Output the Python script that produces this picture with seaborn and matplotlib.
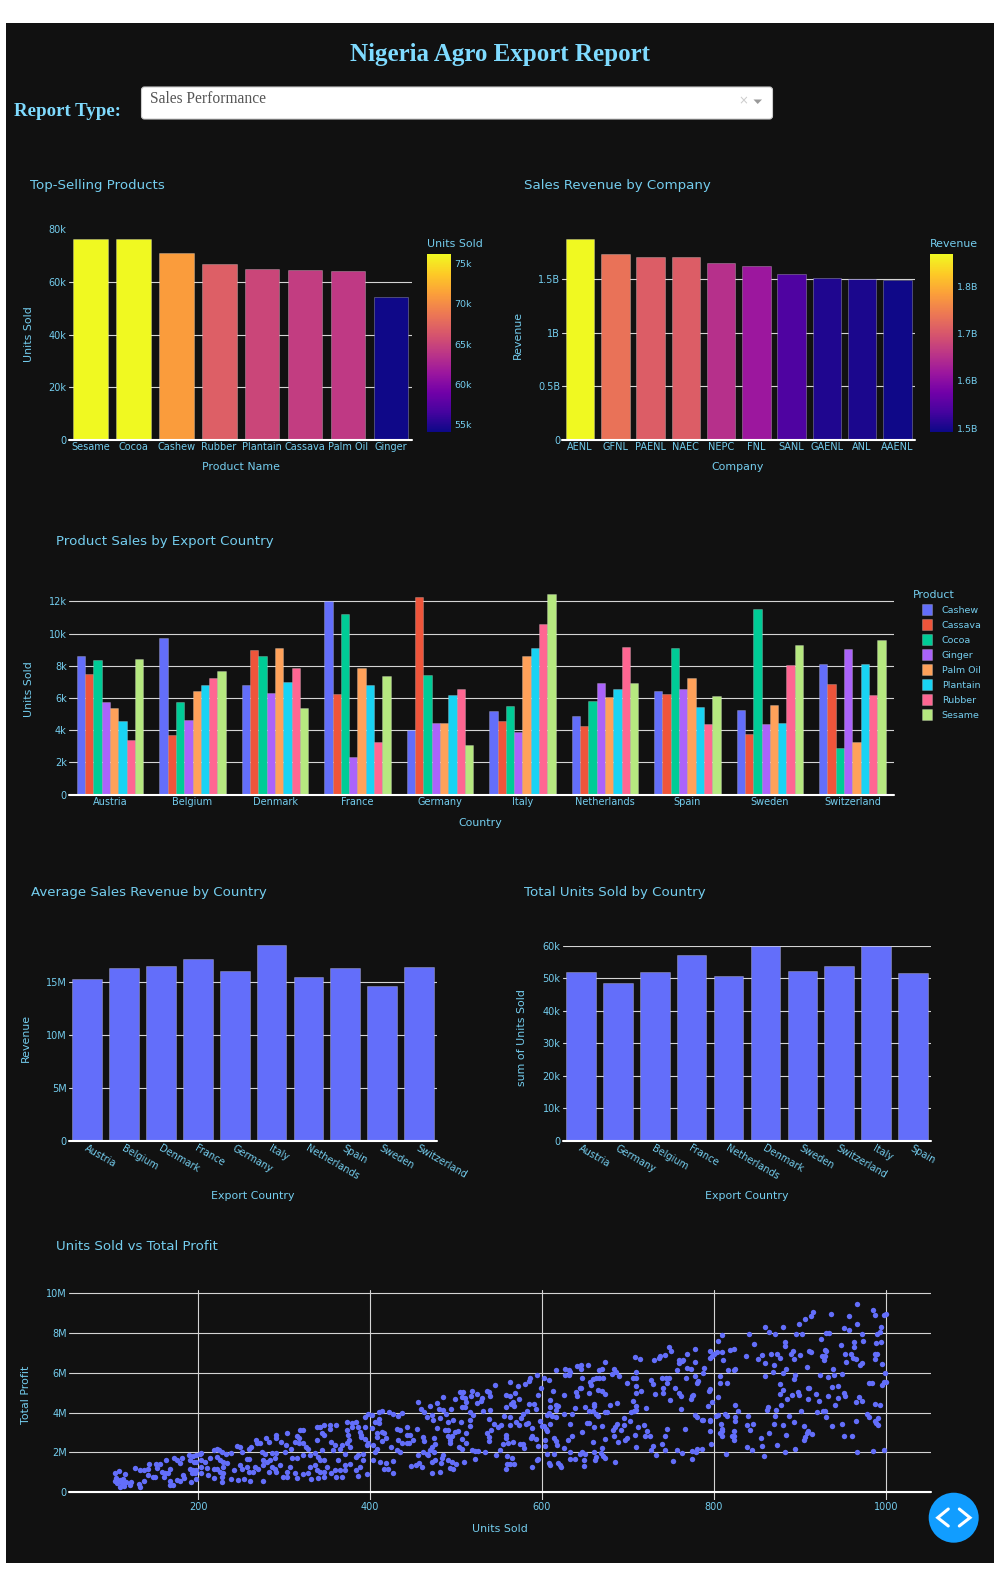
import matplotlib
matplotlib.use('Agg')
import matplotlib.pyplot as plt
import pandas as pd
import seaborn as sns
from matplotlib.cm import ScalarMappable
from matplotlib.colors import Normalize
from matplotlib.patches import Circle, FancyBboxPatch, Rectangle
from matplotlib.transforms import ScaledTranslation

# top row
top_products = ['Sesame', 'Cocoa', 'Cashew', 'Rubber', 'Plantain', 'Cassava', 'Palm Oil', 'Ginger']
top_units = [76400, 76400, 71000, 66900, 65100, 64400, 64100, 54300]
companies = ['AENL', 'GFNL', 'PAENL', 'NAEC', 'NEPC', 'FNL', 'SANL', 'GAENL', 'ANL', 'AAENL']
company_revenue = [1.87e9, 1.733e9, 1.708e9, 1.708e9, 1.649e9, 1.618e9, 1.543e9, 1.506e9, 1.503e9, 1.494e9]

# grouped bars
countries = ['Austria', 'Belgium', 'Denmark', 'France', 'Germany', 'Italy', 'Netherlands', 'Spain', 'Sweden', 'Switzerland']
products = ['Cashew', 'Cassava', 'Cocoa', 'Ginger', 'Palm Oil', 'Plantain', 'Rubber', 'Sesame']
cashew = [8600, 9720, 6800, 12000, 3990, 5170, 4880, 6460, 5230, 8090]
cassava = [7500, 3700, 8960, 6250, 12250, 4570, 4260, 6250, 3770, 6890]
cocoa = [8360, 5750, 8630, 11210, 7430, 5480, 5810, 9120, 11520, 2880]
ginger = [5770, 4610, 6310, 2340, 4470, 3890, 6910, 6560, 4390, 9040]
palm_oil = [5360, 6430, 9120, 7860, 4450, 8610, 6060, 7220, 5590, 3290]
plantain = [4570, 6790, 6970, 6790, 6210, 9080, 6560, 5420, 4430, 8130]
rubber = [3390, 7260, 7860, 3290, 6540, 10610, 9170, 4410, 8050, 6170]
sesame = [8400, 7700, 5380, 7350, 3060, 12460, 6910, 6100, 9290, 9600]
product_series = [cashew, cassava, cocoa, ginger, palm_oil, plantain, rubber, sesame]

# third row
avg_revenue = [15.29e6, 16.39e6, 16.52e6, 17.21e6, 16.08e6, 18.5e6, 15.51e6, 16.39e6, 14.69e6, 16.49e6]
total_countries = ['Austria', 'Germany', 'Belgium', 'France', 'Netherlands', 'Denmark', 'Sweden', 'Switzerland', 'Italy', 'Spain']
total_units = [52000, 48400, 51900, 57100, 50600, 60000, 52300, 53900, 59900, 51500]

# scatter: units sold, total profit in millions
units_profit = [
    (103, .94), (108, 1.04), (115, .90), (104, .69), (109, .60), (113, .64), (103, .57), (106, .47), (111, .44), (116, .49),
    (122, .52), (109, .23), (114, .30), (121, .35), (133, .27), (131, .39), (137, .57), (127, 1.22), (133, 1.11), (137, 1.11),
    (143, 1.41), (142, 1.14), (142, .85), (150, .74), (151, 1.39), (156, 1.42), (152, 1.19), (148, .77), (163, 1.59), (158, 1.02),
    (162, .94), (160, .74), (167, 1.16), (165, .94), (167, .57), (167, .35), (171, .35), (172, 1.69), (175, 1.61), (181, 1.69),
    (179, 1.44), (182, .84), (184, .69), (175, .60), (179, .57), (192, .52), (198, .64), (189, 1.86), (194, 1.81), (198, 1.86),
    (202, 1.94), (204, 1.98), (191, 1.61), (195, 1.52), (198, 1.52), (191, 1.16), (194, 1.11), (198, 1.11), (193, .94), (197, .94),
    (204, 1.61), (208, 1.52), (214, 1.69), (218, 2.11), (222, 2.19), (224, 2.11), (228, 2.03), (233, 1.91), (238, 1.98), (204, 1.27),
    (210, 1.19), (218, 1.17), (222, 1.17), (204, .94), (212, .85), (218, .69), (228, .49), (228, .77), (226, 1.02), (229, .97),
    (234, 1.44), (229, 1.27), (222, 1.78), (226, 1.61), (229, 1.52), (242, 1.11), (238, .67), (246, .60), (253, .64), (261, .54),
    (275, .57), (249, 1.36), (251, 1.17), (257, 1.64), (259, 1.64), (257, 1.24), (259, 1.01), (264, 1.02), (266, 1.27), (270, 1.14),
    (245, 2.33), (249, 2.28), (251, 2.03), (259, 2.19), (262, 2.28), (267, 2.61), (269, 2.45), (272, 2.45), (279, 2.73), (283, 2.53),
    (274, 2.03), (278, 1.94), (286, 1.98), (291, 1.98), (301, 2.03), (276, 1.61), (280, 1.52), (284, 1.61), (276, 1.36), (282, 1.02),
    (286, 1.27), (290, 1.16), (291, 1.02), (295, 1.36), (290, 1.69), (303, 1.02), (299, .74), (304, .77), (313, .94), (315, .69),
    (322, .90), (307, 1.27), (309, 1.69), (315, 1.69), (291, 2.86), (291, 2.70), (297, 2.53), (302, 2.36), (304, 2.95), (308, 2.19),
    (313, 2.53), (317, 2.45), (315, 2.83), (319, 3.12), (322, 3.12), (317, 2.70), (322, 2.45), (326, 2.28), (328, 2.19), (322, 1.86),
    (330, 1.86), (330, 1.27), (328, .97), (331, .64), (338, 2.61), (338, 3.28), (342, 3.28), (346, 3.37), (344, 2.95), (347, 2.86),
    (353, 3.37), (354, 3.15), (360, 3.40), (336, 1.98), (336, 1.36), (338, 1.11), (340, 1.78), (342, 1.61), (346, 1.61), (344, 2.11),
    (350, 1.27), (342, 1.02), (346, 1.02), (340, .69), (346, .77), (355, .94), (361, .77), (367, .77), (359, 1.11), (365, 1.11),
    (371, 1.11), (363, 1.61), (371, 1.36), (377, 1.39), (355, 2.53), (359, 2.36), (357, 2.11), (365, 2.19), (371, 1.94), (367, 2.36),
    (373, 2.45), (377, 2.28), (373, 3.53), (379, 3.48), (379, 3.28), (373, 3.12), (375, 2.86), (376, 2.61), (384, 3.53), (386, 3.28),
    (388, 3.03), (390, 2.86), (394, 3.28), (394, 3.79), (398, 3.92), (402, 3.87), (410, 4.04), (414, 4.07), (422, 4.04), (427, 3.95),
    (433, 3.85), (437, 3.99), (390, 2.78), (394, 2.65), (398, 2.45), (396, 2.36), (404, 2.36), (406, 2.03), (408, 2.19), (384, 1.74),
    (386, 1.86), (392, 1.94), (392, 1.61), (388, 1.27), (384, 1.11), (386, .80), (397, .89), (404, 1.61), (412, 1.52), (419, 1.47),
    (427, 1.57), (416, 1.17), (421, 1.17), (427, .97), (406, 3.53), (410, 3.70), (410, 3.48), (402, 3.20), (408, 2.95), (414, 3.03),
    (416, 2.95), (408, 2.78), (414, 2.58), (419, 2.70), (425, 2.28), (431, 3.15), (435, 3.12), (433, 2.61), (443, 3.28), (437, 2.48),
    (443, 2.86), (446, 2.86), (450, 2.61), (443, 2.45), (445, 2.45), (431, 2.11), (435, 2.03), (456, 4.54), (459, 4.20), (463, 4.04),
    (466, 3.79), (470, 4.32), (472, 3.87), (473, 3.62), (478, 4.49), (480, 4.20), (481, 3.74), (485, 4.79), (485, 4.12), (489, 3.95),
    (494, 4.20), (499, 4.67), (491, 3.53), (497, 3.62), (505, 5.03), (508, 5.03), (507, 4.79), (510, 4.71), (512, 4.54), (507, 4.29),
    (510, 4.29), (516, 4.04), (520, 3.87), (519, 5.09), (525, 4.96), (518, 4.82), (529, 4.59), (524, 4.46), (530, 4.71), (536, 5.09),
    (539, 5.04), (540, 4.82), (545, 5.39), (531, 4.09), (540, 4.12), (539, 3.67), (516, 3.62), (506, 3.53), (516, 3.32), (512, 2.95),
    (478, 3.23), (487, 3.12), (491, 3.12), (499, 3.03), (502, 3.07), (491, 2.83), (495, 2.83), (493, 2.61), (493, 2.45), (462, 2.78),
    (463, 2.58), (474, 2.73), (476, 2.41), (472, 2.28), (470, 2.11), (474, 2.03), (466, 1.94), (462, 2.03), (468, 1.86), (456, 1.89),
    (455, 3.17), (448, 1.32), (453, 1.36), (457, 1.47), (460, 1.27), (472, .94), (481, 1.01), (472, 1.52), (476, 1.61), (485, 1.89),
    (484, 1.69), (483, 1.47), (491, 1.61), (496, 1.52), (493, 1.19), (497, 1.17), (500, 1.41), (509, 1.52), (504, 2.28), (507, 2.19),
    (507, 2.65), (512, 2.48), (519, 2.14), (522, 2.06), (526, 2.08), (522, 1.67), (534, 2.03), (547, 1.89), (536, 2.95), (538, 2.78),
    (539, 2.55), (541, 3.12), (544, 3.42), (549, 3.28),
    (967, 9.48), (985, 9.18), (987, 8.89), (998, 8.93), (1000, 8.96), (957, 8.84), (936, 8.94), (915, 9.05), (913, 8.88), (906, 8.69),
    (899, 8.44), (881, 8.29), (859, 8.29), (864, 8.07), (871, 7.96), (841, 7.94), (810, 7.92), (967, 8.44), (951, 8.26), (957, 8.14),
    (972, 7.97), (995, 8.29), (993, 8.07), (990, 7.94), (930, 8.02), (934, 7.99), (903, 7.97), (896, 7.94), (925, 7.72), (973, 7.59),
    (963, 7.55), (963, 7.32), (989, 7.50), (995, 7.57), (948, 7.42), (805, 7.60), (883, 7.57), (883, 7.37), (847, 7.47), (823, 7.20),
    (819, 7.14), (795, 7.12), (804, 7.07), (800, 6.97), (810, 7.04), (769, 6.95), (778, 7.20), (748, 7.29), (750, 7.09), (743, 6.90),
    (737, 6.87), (736, 6.73), (730, 6.67), (708, 6.78), (714, 6.68), (673, 6.53), (654, 6.38), (646, 6.40), (641, 6.33), (645, 6.21),
    (617, 6.15), (627, 6.18), (631, 6.13), (633, 6.05), (631, 5.88), (627, 5.88), (667, 6.15), (670, 6.21), (684, 6.21), (686, 6.06),
    (681, 5.93), (690, 5.86), (709, 6.06), (706, 5.75), (709, 5.75), (699, 5.49), (709, 5.36), (727, 5.66), (729, 5.44), (740, 5.75),
    (744, 5.76), (748, 5.76), (746, 5.49), (741, 5.24), (755, 5.23), (741, 5.01), (732, 4.96), (715, 5.08), (710, 4.97), (760, 6.63),
    (764, 6.63), (760, 6.50), (763, 6.60), (757, 6.16), (778, 6.55), (769, 6.26), (773, 6.20), (789, 6.26), (787, 6.01), (768, 5.76),
    (778, 5.83), (782, 5.61), (780, 5.51), (807, 5.86), (807, 5.51), (815, 5.49), (816, 6.13), (823, 6.13), (825, 6.18), (811, 6.67),
    (795, 6.75), (798, 6.83), (837, 6.83), (851, 6.72), (856, 6.88), (866, 6.93), (873, 6.95), (877, 6.73), (870, 6.40), (860, 6.52),
    (869, 6.05), (880, 5.98), (884, 6.20), (893, 6.68), (890, 6.97), (892, 7.12), (900, 6.92), (911, 7.12), (913, 7.05), (929, 7.14),
    (931, 7.09), (929, 6.87), (926, 6.83), (928, 6.65), (953, 6.97), (960, 6.97), (962, 6.73), (965, 6.72), (954, 6.55), (972, 6.52),
    (970, 6.42), (988, 6.93), (990, 6.93), (988, 6.68), (996, 6.45), (999, 6.01), (998, 5.54), (1000, 5.53), (996, 5.41), (981, 5.49),
    (984, 5.49), (949, 5.96), (940, 5.91), (939, 6.20), (933, 5.81), (924, 5.91), (908, 6.31), (895, 5.88), (893, 5.69), (859, 5.83),
    (877, 5.43), (881, 5.16), (877, 4.96), (885, 4.66), (891, 4.87), (898, 5.04), (899, 4.91), (909, 5.26), (911, 5.26), (909, 4.67),
    (919, 4.92), (922, 4.56), (933, 4.82), (938, 5.28), (945, 5.34), (945, 4.74), (951, 4.99), (953, 4.82), (941, 4.39), (965, 4.51),
    (969, 4.77), (972, 4.59), (988, 4.42), (993, 4.39), (878, 4.39), (872, 4.14), (862, 4.15), (863, 4.29), (902, 4.10), (920, 4.05),
    (927, 4.07), (929, 4.09), (930, 3.77), (978, 3.92), (981, 3.77), (991, 3.72), (987, 3.58), (991, 3.40), (989, 3.48), (965, 3.58),
    (938, 3.33), (949, 3.43), (905, 3.33), (893, 3.55), (887, 3.84), (881, 3.35), (871, 3.85), (870, 3.43), (864, 2.98), (884, 2.85),
    (840, 3.84), (825, 4.37), (828, 4.07), (825, 3.77), (825, 3.57), (813, 3.95), (815, 3.84), (805, 3.90), (802, 3.84), (795, 3.60),
    (796, 3.65), (786, 3.63), (788, 3.63), (778, 3.87), (780, 3.79), (762, 4.20), (793, 4.34), (798, 4.54), (805, 4.76), (794, 5.11),
    (796, 5.21), (775, 4.82), (776, 4.87), (774, 4.69), (762, 4.82), (760, 4.99), (749, 4.62), (721, 4.22), (706, 4.57), (709, 4.32),
    (709, 4.12), (704, 4.04), (707, 4.07), (846, 3.43), (839, 3.38), (842, 3.13), (808, 3.42), (810, 3.17), (809, 3.07), (807, 2.98),
    (809, 2.81), (823, 3.07), (824, 2.81), (821, 2.83), (823, 2.61), (795, 3.05), (797, 2.40), (766, 3.17), (746, 3.17), (743, 2.81),
    (740, 2.40), (729, 2.31), (727, 2.14), (733, 1.88), (743, 2.11), (757, 2.11), (763, 1.98), (775, 2.06), (780, 2.19), (779, 2.03),
    (786, 2.16), (775, 1.68), (752, 1.57), (814, 1.91), (839, 2.26), (844, 2.14), (855, 2.71), (856, 2.31), (858, 1.79), (874, 2.35),
    (883, 2.03), (895, 2.16), (905, 2.61), (906, 2.78), (908, 2.95), (910, 3.05), (914, 2.93), (951, 2.83), (961, 2.83), (967, 2.03),
    (985, 2.06), (998, 2.13), (719, 3.35), (712, 3.27), (722, 3.07), (720, 2.80), (726, 2.81), (708, 2.86), (699, 2.70), (697, 2.61),
    (710, 2.26), (702, 3.57), (696, 3.75), (695, 3.35), (692, 3.12), (687, 3.43), (685, 3.28), (683, 3.12), (684, 2.83), (689, 2.50),
    (685, 1.49), (673, 2.65), (670, 3.32), (661, 3.25), (653, 3.47), (655, 3.50), (647, 3.00), (635, 2.83), (633, 3.42), (630, 2.60),
    (617, 2.56), (614, 2.70), (660, 2.53), (670, 2.24), (661, 2.04), (669, 1.96), (671, 1.83), (673, 1.73), (663, 1.78), (662, 1.61),
    (649, 1.59), (649, 1.32), (638, 1.66), (633, 1.64), (633, 2.01), (644, 1.91), (647, 2.03), (650, 1.91), (626, 2.21), (618, 2.36),
    (614, 1.91), (606, 1.94), (608, 1.44), (609, 1.34), (619, 1.46), (621, 1.36), (622, 1.24), (596, 1.64), (594, 1.59), (588, 1.26),
    (604, 2.31), (596, 2.33), (593, 2.65), (588, 2.81), (587, 2.73), (604, 2.63), (605, 3.15), (600, 3.32), (603, 3.30), (606, 3.08),
    (610, 3.45), (598, 3.58), (584, 3.50), (582, 3.45), (588, 3.20), (558, 2.86), (558, 2.70), (566, 2.50), (561, 2.46), (555, 2.41),
    (551, 2.14), (574, 2.41), (578, 2.41), (579, 2.23), (559, 1.81), (565, 1.71), (560, 1.42), (563, 1.42), (567, 1.42), (558, 1.16),
    (553, 3.37), (563, 3.37), (573, 3.37), (570, 3.53), (576, 3.74), (578, 3.94), (583, 4.07), (585, 4.42), (591, 4.42), (593, 4.20),
    (595, 4.87), (599, 5.24), (608, 5.64), (603, 5.76), (594, 5.88), (586, 5.73), (585, 5.59), (580, 5.43), (572, 5.33), (563, 5.53),
    (558, 4.89), (563, 4.81), (569, 4.97), (573, 4.67), (566, 4.52), (564, 4.41), (568, 4.32), (558, 4.27), (556, 3.82), (563, 3.77),
    (626, 3.95), (635, 3.94), (638, 4.25), (650, 4.29), (655, 4.07), (661, 4.44), (661, 4.32), (660, 4.07), (663, 3.92), (665, 3.84),
    (673, 4.04), (676, 4.04), (679, 4.36), (687, 4.46), (641, 4.81), (640, 5.03), (646, 5.26), (644, 5.26), (655, 4.99), (657, 5.38),
    (656, 5.54), (626, 4.89), (613, 5.09), (610, 4.62), (610, 4.29), (617, 4.37), (619, 4.34), (616, 4.15), (606, 3.90), (608, 3.99),
    (612, 3.82), (616, 3.80), (659, 5.71), (663, 5.75), (667, 5.76), (671, 5.76), (647, 5.73), (665, 5.16), (670, 5.09), (673, 4.92),
]

plasma = ['#0d0887', '#46039f', '#7201a8', '#9c179e', '#bd3786', '#d8576b', '#ed7953', '#fb9f3a', '#fdca26', '#f0f921']
plotly_colors = ['#636EFA', '#EF553B', '#00CC96', '#AB63FA', '#FFA15A', '#19D3F3', '#FF6692', '#B6E880']

HEAD = '#7FDBFF'
TEXT = '#74cdee'
DARK = '#111111'
BLUE = '#636EFA'
W, H = 1000, 1570

sns.set_theme(style='dark', rc={'axes.facecolor': 'none', 'figure.facecolor': 'white', 'axes.grid': False})
plt.rcParams['font.family'] = ['DejaVu Sans']
plasma_cmap = sns.blend_palette(plasma, as_cmap=True)
bar_edge = (1, 1, 1, 0.3)


def make_axes(left, top, right, bottom):
    ax = fig.add_axes([left / W, 1 - bottom / H, (right - left) / W, (bottom - top) / H], zorder=2)
    ax.box = (left, top, right, bottom)
    for spine in ax.spines.values():
        spine.set_visible(False)
    ax.set_axisbelow(True)
    ax.yaxis.grid(True, color='#d4d4d4', lw=0.8)
    ax.xaxis.grid(False)
    ax.tick_params(colors=TEXT, labelsize=7, length=0, pad=1.5)
    return ax


def decorate(ax, title, title_xy, xlabel, xlabel_xy, ylabel, ylabel_xy):
    left, top, right, bottom = ax.box

    def to_axes(x, y):
        return (x - left) / (right - left), (bottom - y) / (bottom - top)

    tx, ty = to_axes(*title_xy)
    ax.set_title(title, loc='left', x=tx, y=ty, pad=0, va='center', color=TEXT, fontsize=9.6)
    ax.set_xlabel(xlabel, color=TEXT, fontsize=7.9, va='center')
    ax.xaxis.set_label_coords(*to_axes(*xlabel_xy))
    ax.set_ylabel(ylabel, color=TEXT, fontsize=7.9, va='center')
    ax.yaxis.set_label_coords(*to_axes(*ylabel_xy))
    ax.axhline(0, color='white', lw=1.5, zorder=5, clip_on=False)


def slant_labels(ax):
    # labels start a little left of their tick, rotated 30 degrees clockwise
    shift = ScaledTranslation(-2 / 100, 0, fig.dpi_scale_trans)
    ax.tick_params(axis='x', pad=5)
    for label in ax.get_xticklabels():
        label.set(rotation=-30, ha='left', va='center', rotation_mode='anchor')
        label.set_transform(label.get_transform() + shift)


def colorbar(box, norm, ticks, labels, title):
    left, top, right, bottom = box
    cax = fig.add_axes([left / W, 1 - bottom / H, (right - left) / W, (bottom - top) / H], zorder=2)
    cb = fig.colorbar(ScalarMappable(norm=norm, cmap=plasma_cmap), cax=cax)
    cb.outline.set_visible(False)
    cb.set_ticks(ticks, labels=labels)
    cb.ax.tick_params(colors=TEXT, labelsize=6.8, length=0, pad=2.5)
    cb.ax.set_title(title, loc='left', color=TEXT, fontsize=7.9, pad=5)


fig = plt.figure(figsize=(W / 100, H / 100), facecolor='white')

# page behind the charts, in pixel coordinates
page = fig.add_axes([0, 0, 1, 1], zorder=0)
page.set_xlim(0, W)
page.set_ylim(H, 0)
page.axis('off')
page.add_patch(Rectangle((6, 23), 987.5, 1540, color=DARK, lw=0))
page.text(500, 54.5, 'Nigeria Agro Export Report', family='Liberation Serif', weight='bold',
          fontsize=18, color=HEAD, ha='center', va='center')
page.text(14, 112, 'Report Type:', family='Liberation Serif', weight='bold',
          fontsize=13.6, color=HEAD, ha='left', va='center')
page.add_patch(FancyBboxPatch((143, 88.5), 628, 29, boxstyle='round,pad=1.5,rounding_size=3',
                              fc='white', ec='#cccccc', lw=0.8))
page.text(150, 99, 'Sales Performance', family='Liberation Serif', fontsize=11.2, color='#555555',
          ha='left', va='center')
page.text(743.5, 101, '×', fontsize=8.5, color='#cccccc', ha='center', va='center')
page.fill([753.5, 762, 757.7], [99.5, 99.5, 104], color='#999999', lw=0)
page.add_patch(Circle((953.7, 1517.7), 25, color='#119DFF', lw=0))
page.plot([948.3, 937.7, 948.3], [1509, 1517.7, 1526], color='white', lw=2.2, solid_joinstyle='miter')
page.plot([959.3, 970, 959.3], [1509, 1517.7, 1526], color='white', lw=2.2, solid_joinstyle='miter')

# Top-Selling Products
ax1 = make_axes(68.8, 229.3, 412.4, 440)
units_norm = Normalize(54130, 76150)
sns.barplot(x=top_products, y=top_units, hue=top_products, dodge=False, legend=False, ax=ax1, width=0.81, saturation=1,
            palette={p: plasma_cmap(units_norm(v)) for p, v in zip(top_products, top_units)},
            edgecolor=bar_edge, linewidth=0.6)
ax1.set_xlim(-0.5, len(top_products) - 0.5)
ax1.set_ylim(0, 80000)
ax1.set_yticks([0, 20000, 40000, 60000, 80000], labels=['0', '20k', '40k', '60k', '80k'])
ax1.get_ygridlines()[-1].set_visible(False)
decorate(ax1, 'Top-Selling Products', (30.5, 186), 'Product Name', (240.5, 467.5), 'Units Sold', (28.5, 334.5))
colorbar((427, 254, 451, 432), units_norm, [55000, 60000, 65000, 70000, 75000],
         ['55k', '60k', '65k', '70k', '75k'], 'Units Sold')

# Sales Revenue by Company
ax2 = make_axes(562.4, 239.3, 915, 440)
revenue_norm = Normalize(1.492e9, 1.8676e9)
sns.barplot(x=companies, y=company_revenue, hue=companies, dodge=False, legend=False, ax=ax2, width=0.81, saturation=1,
            palette={c: plasma_cmap(revenue_norm(v)) for c, v in zip(companies, company_revenue)},
            edgecolor=bar_edge, linewidth=0.6)
ax2.set_xlim(-0.5, len(companies) - 0.5)
ax2.set_ylim(0, 1.87e9)
ax2.set_yticks([0, 0.5e9, 1e9, 1.5e9], labels=['0', '0.5B', '1B', '1.5B'])
decorate(ax2, 'Sales Revenue by Company', (524.5, 186), 'Company', (738, 467.5), 'Revenue', (517.5, 334.5))
colorbar((929.7, 254, 953, 432), revenue_norm, [1.5e9, 1.6e9, 1.7e9, 1.8e9],
         ['1.5B', '1.6B', '1.7B', '1.8B'], 'Revenue')

# Product Sales by Export Country
ax3 = make_axes(68.8, 594, 893.6, 794.7)
sales = pd.DataFrame({'Country': countries, **dict(zip(products, product_series))})
sales = sales.melt(id_vars='Country', var_name='Product', value_name='Units Sold')
sns.barplot(data=sales, x='Country', y='Units Sold', hue='Product', hue_order=products, palette=plotly_colors,
            ax=ax3, width=0.806, gap=0, saturation=1, edgecolor=bar_edge, linewidth=0.5)
ax3.set_xlim(-0.5, len(countries) - 0.5)
ax3.set_ylim(0, 12460)
ax3.set_yticks(range(0, 12001, 2000), labels=['0', '2k', '4k', '6k', '8k', '10k', '12k'])
decorate(ax3, 'Product Sales by Export Country', (55.5, 541), 'Country', (480.5, 822.5), 'Units Sold', (28.5, 689))
sns.move_legend(ax3, 'upper left', bbox_to_anchor=(913 / W, 1 - 581 / H), bbox_transform=fig.transFigure,
                frameon=False, title='Product', fontsize=6.8, title_fontsize=7.9, labelcolor=TEXT,
                handlelength=1.1, handleheight=1.3, labelspacing=0.5, handletextpad=1.05, alignment='left')
ax3.get_legend().get_title().set_color(TEXT)
ax3.get_legend().get_title().set_x(-9)

# Average Sales Revenue by Country
ax4 = make_axes(68.9, 945.3, 437.4, 1140.7)
sns.barplot(x=countries, y=avg_revenue, color=BLUE, ax=ax4, width=0.81, saturation=1,
            edgecolor=bar_edge, linewidth=0.6)
ax4.set_xlim(-0.5, len(countries) - 0.5)
ax4.set_ylim(0, 18.5e6)
ax4.set_yticks([0, 5e6, 10e6, 15e6], labels=['0', '5M', '10M', '15M'])
slant_labels(ax4)
decorate(ax4, 'Average Sales Revenue by Country', (31, 892), 'Export Country', (253, 1196), 'Revenue', (26, 1037.5))

# Total Units Sold by Country
ax5 = make_axes(562.6, 945.7, 931.3, 1140.7)
sns.barplot(x=total_countries, y=total_units, color=BLUE, ax=ax5, width=0.8, saturation=1,
            edgecolor=bar_edge, linewidth=0.6)
ax5.set_xlim(-0.5, len(total_countries) - 0.5)
ax5.set_ylim(0, 60000)
ax5.set_yticks(range(0, 60001, 10000), labels=['0', '10k', '20k', '30k', '40k', '50k', '60k'])
slant_labels(ax5)
decorate(ax5, 'Total Units Sold by Country', (524.5, 892), 'Export Country', (746.5, 1196), 'sum of Units Sold', (522, 1037.5))

# Units Sold vs Total Profit
ax6 = make_axes(69, 1290, 931.3, 1500)
points = pd.DataFrame(units_profit, columns=['Units Sold', 'Profit M'])
points['Total Profit'] = points['Profit M'] * 1e6
sns.scatterplot(data=points, x='Units Sold', y='Total Profit', color=BLUE, s=15, linewidth=0, ax=ax6, zorder=3)
ax6.xaxis.grid(True, color='#d4d4d4', lw=0.8)
ax6.set_xlim(49.9, 1053)
ax6.set_ylim(-0.4e6, 10.17e6)
ax6.set_xticks([200, 400, 600, 800, 1000], labels=['200', '400', '600', '800', '1000'])
ax6.set_yticks([0, 2e6, 4e6, 6e6, 8e6, 10e6], labels=['0', '2M', '4M', '6M', '8M', '10M'])
decorate(ax6, 'Units Sold vs Total Profit', (55.5, 1246), 'Units Sold', (499.5, 1529), 'Total Profit', (26, 1395))

plt.savefig('out.png', dpi=100)
plt.close()
